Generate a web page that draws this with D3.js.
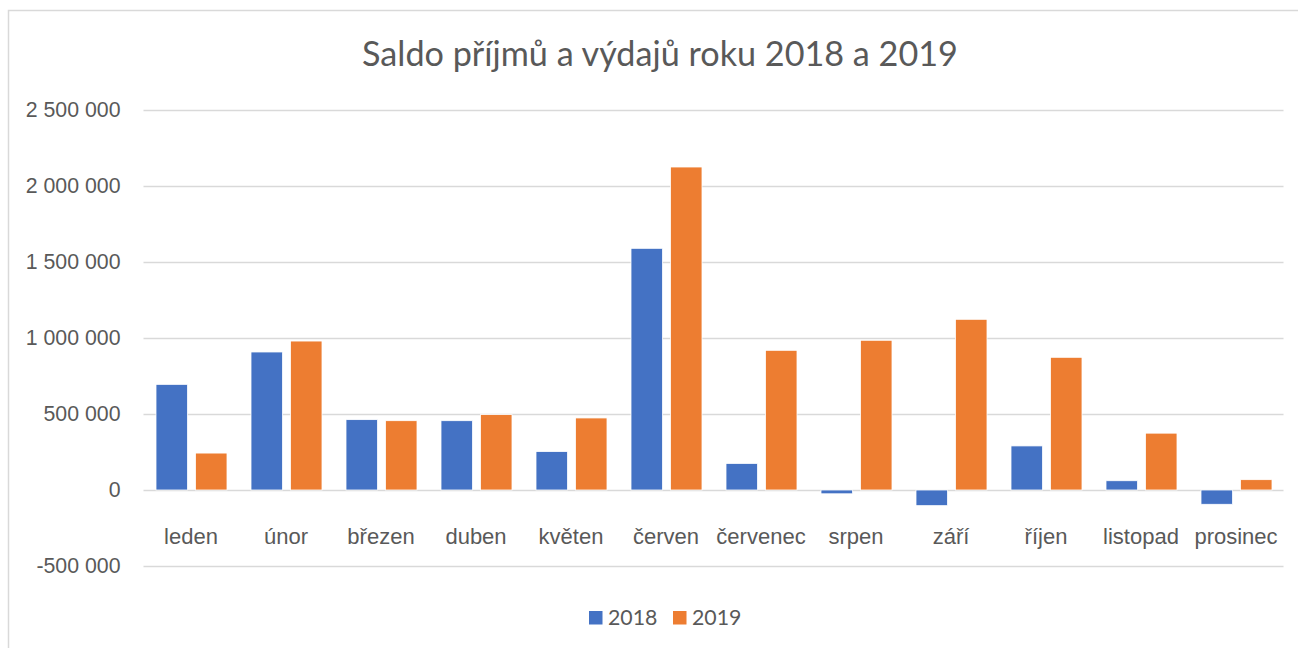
<!DOCTYPE html>
<html>
<head>
<meta charset="utf-8">
<script src="https://cdn.jsdelivr.net/npm/d3@7"></script>
<style>
  body { margin: 0; background: #fff; }
  svg { font-family: Lato, "Open Sans", sans-serif; }
  .grid line { stroke: #d9d9d9; stroke-width: 1.5; }
  .grid text { fill: #595959; font-size: 21.3px; }
  .cats text { fill: #595959; font-size: 22px; }
</style>
</head>
<body>
<script>
// Saldo příjmů a výdajů – monthly balance 2018 vs 2019
var months = ["leden", "únor", "březen", "duben", "květen", "červen",
              "červenec", "srpen", "září", "říjen", "listopad", "prosinec"];
var series = ["2018", "2019"];
var values2018 = [695000, 908000, 463000, 456000, 253000, 1590000,
                  175000, -25000, -103000, 290000, 61000, -94000];
var values2019 = [243000, 980000, 456000, 496000, 474000, 2125000,
                  919000, 985000, 1123000, 873000, 374000, 68000];
var yTicks = [-500000, 0, 500000, 1000000, 1500000, 2000000, 2500000];
var colors = ["#4472c4", "#ed7d31"];

var margin = ({top: 110, right: 14.5, bottom: 82, left: 143.5});
var width = 1298 - margin.left - margin.right;
var height = 648 - margin.top - margin.bottom;

var locale = d3.formatLocale({decimal: ",", thousands: " ", grouping: [3], currency: ["", ""], minus: "-"});
var fmt = locale.format(",");

var root = d3.select("body").append("svg")
    .attr("width", 1298)
    .attr("height", 648);

// chart frame
root.append("rect")
    .attr("x", 8.5)
    .attr("y", 10.5)
    .attr("width", 1310)
    .attr("height", 660)
    .attr("fill", "none")
    .attr("stroke", "#d9d9d9")
    .attr("stroke-width", 1.5);

root.append("text")
    .attr("x", 660)
    .attr("y", 66)
    .attr("text-anchor", "middle")
    .attr("fill", "#595959")
    .style("font-size", "34.2px")
    .text("Saldo příjmů a výdajů roku 2018 a 2019");

var svg = root.append("g")
    .attr("transform", "translate(" + margin.left + "," + margin.top + ")");

var x0 = d3.scaleBand()
    .domain(months)
    .range([0, width]);

var x1 = d3.scaleBand()
    .domain(series)
    .range([12.5, x0.bandwidth() - 11.5])
    .paddingInner(0.2);

var y = d3.scaleLinear()
    .domain([-500000, 2500000])
    .range([height, 0]);

var yAxis = d3.axisLeft(y)
    .tickValues(yTicks)
    .tickSize(-width)
    .tickPadding(23)
    .tickFormat(fmt);

svg.append("g")
    .attr("class", "grid")
    .call(yAxis)
    .call(function(g) { g.select(".domain").remove(); });

var data = months.map(function(m, i) {
  return {month: m, vals: [
    {key: "2018", value: values2018[i]},
    {key: "2019", value: values2019[i]}
  ]};
});

var groups = svg.selectAll(".month")
    .data(data)
  .enter().append("g")
    .attr("class", "month")
    .attr("transform", function(d) { return "translate(" + x0(d.month) + ",0)"; });

groups.selectAll("rect")
    .data(function(d) { return d.vals; })
  .enter().append("rect")
    .attr("x", function(d) { return x1(d.key); })
    .attr("y", function(d) { return y(Math.max(0, d.value)); })
    .attr("width", x1.bandwidth())
    .attr("height", function(d) { return Math.abs(y(d.value) - y(0)); })
    .attr("fill", function(d, i) { return colors[i]; })
    .attr("stroke", "#fff")
    .attr("stroke-width", 0.8);

var xAxis = d3.axisBottom(x0)
    .tickSize(0)
    .tickPadding(38.5);

svg.append("g")
    .attr("class", "cats")
    .attr("transform", "translate(0," + y(0) + ")")
    .call(xAxis)
    .call(function(g) { g.select(".domain").remove(); });

// legend
var legend = root.append("g")
    .attr("transform", "translate(589,611)");

var items = legend.selectAll(".item")
    .data(series)
  .enter().append("g")
    .attr("class", "item")
    .attr("transform", function(d, i) { return "translate(" + (i * 84) + ",0)"; });

items.append("rect")
    .attr("width", 13.5)
    .attr("height", 13.5)
    .attr("fill", function(d, i) { return colors[i]; });

items.append("text")
    .attr("x", 19)
    .attr("y", 7)
    .attr("dy", "0.35em")
    .attr("fill", "#595959")
    .style("font-size", "21.3px")
    .text(function(d) { return d; });
</script>
</body>
</html>
